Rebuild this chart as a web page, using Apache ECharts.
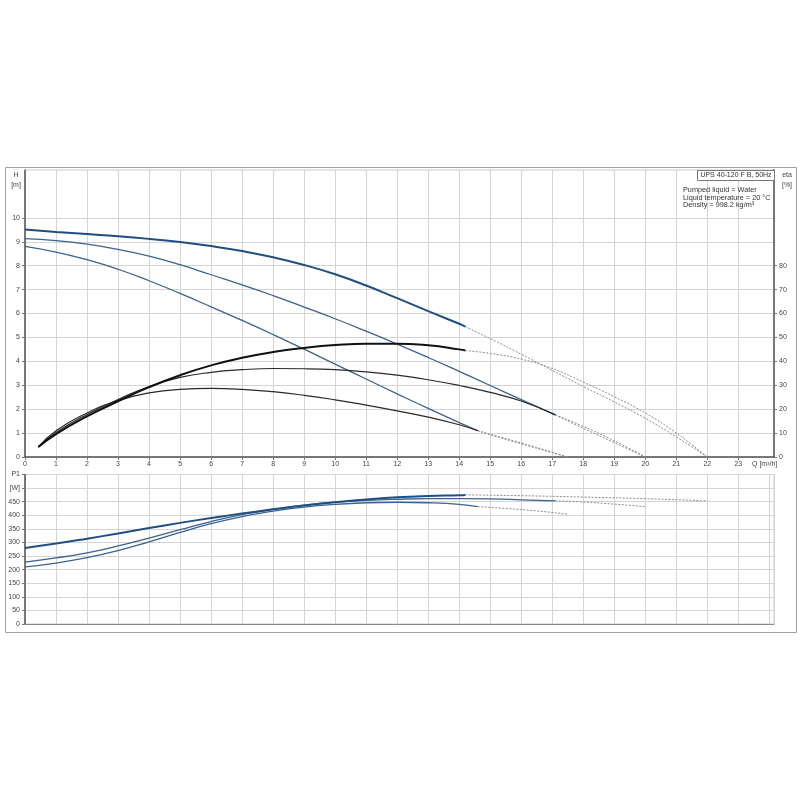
<!DOCTYPE html>
<html>
<head>
<meta charset="utf-8">
<script src="https://cdn.jsdelivr.net/npm/echarts@6/dist/echarts.min.js"></script>
<style>
html,body{margin:0;padding:0;background:#fff;}
#c{width:800px;height:800px;}
</style>
</head>
<body>
<div id="c"></div>
<script>
// ---- DATA ----
// Head curves H [m] vs Q [m3/h]
const qHmax = [0,1,2,3,4,5,6,7,8,9,10,11,12,13,14,14.2];
const hMax  = [9.51,9.41,9.32,9.23,9.12,8.99,8.82,8.61,8.35,8.03,7.64,7.17,6.64,6.1,5.57,5.45];
const qHmaxExt = [14.2,15,16,17,18,19,20,21,22];
const hMaxExt  = [5.45,4.95,4.3,3.62,2.95,2.3,1.62,0.84,0];

const qHmid = [0,1,2,3,4,5,6,7,8,9,10,11,12,13,14,15,16,17.1];
const hMid  = [9.13,9.05,8.9,8.68,8.4,8.04,7.62,7.2,6.75,6.27,5.78,5.26,4.72,4.16,3.58,2.99,2.4,1.76];
const qHmidExt = [17.1,18,19,20];
const hMidExt  = [1.76,1.2,0.6,0];

const qHmin = [0,1,2,3,4,5,6,7,8,9,10,11,12,13,14,14.6];
const hMin  = [8.81,8.57,8.25,7.85,7.37,6.84,6.28,5.71,5.12,4.51,3.88,3.26,2.64,2.03,1.44,1.1];
const qHminExt = [14.6,15,16,17,17.5];
const hMinExt  = [1.1,0.93,0.55,0.18,0];

// Efficiency curves eta [%] vs Q
const qEmax = [0.43,1,2,3,4,5,6,7,8,9,10,11,12,13,14,14.2];
const eMax  = [4.2,9.6,17.0,23.3,29.2,34.2,38.3,41.5,43.9,45.6,46.8,47.4,47.4,46.7,45.0,44.5];
const qEmaxExt = [14.2,15,16,17,18,19,20,21,22];
const eMaxExt  = [44.5,43.3,40.9,37.0,31.3,25.2,18.4,10.0,0];

const qEmid = [0.43,1,2,3,4,5,6,7,8,9,10,11,12,13,14,15,16,17.1];
const eMid  = [4.2,10.2,17.8,24.0,29.5,33.3,35.4,36.5,37.0,36.9,36.5,35.6,34.2,32.3,29.9,27.0,23.4,17.6];
const qEmidExt = [17.1,18,19,20];
const eMidExt  = [17.6,12.8,6.8,0];

const qEmin = [0.43,1,2,3,4,5,6,7,8,9,10,11,12,13,14,14.6];
const eMin  = [4.2,11.0,18.4,23.6,26.8,28.3,28.7,28.3,27.3,25.8,23.9,21.7,19.3,16.7,13.5,11.0];
const qEminExt = [14.6,15,16,17,17.5];
const eMinExt  = [11.0,9.5,5.9,2.0,0];

// Power curves P1 [W] vs Q
const qPmax = [0,1,2,3,4,5,6,7,8,9,10,11,12,13,14,14.2];
const pMax  = [280,296,314,333,353,372,390,407,422,436,448,458,466,471,474,475];
const qPmaxExt = [14.2,16,18,20,22];
const pMaxExt  = [475,472,467,461,453];

const qPmid = [0,1,2,3,4,5,6,7,8,9,10,11,12,13,14,15,16,17.1];
const pMid  = [228,243,262,287,316,347,377,402,422,437,448,455,459,461,461,460,457,453];
const qPmidExt = [17.1,18,19,20];
const pMidExt  = [453,449,441,432];

const qPmin = [0,1,2,3,4,5,6,7,8,9,10,11,12,13,14,14.6];
const pMin  = [210,224,244,270,302,337,369,395,415,430,440,446,448,446,440,432];
const qPminExt = [14.6,15.5,16.5,17.5];
const pMinExt  = [432,425,416,404];

// Axis tick values
const qTicks   = [0,1,2,3,4,5,6,7,8,9,10,11,12,13,14,15,16,17,18,19,20,21,22,23];
const hTicks   = [0,1,2,3,4,5,6,7,8,9,10];
const etaTicks = [0,10,20,30,40,50,60,70,80];

// Texts
const titleText = 'UPS 40-120 F B, 50Hz';
const infoLines = ['Pumped liquid = Water', 'Liquid temperature = 20 °C', 'Density = 998.2 kg/m³'];

// ---- CHART ----
const zip = (q, v) => q.map((x, i) => [x, v[i]]);
const FONT = 'Liberation Sans, Arial, sans-serif';
const LBL = {fontSize: 7, color: '#444', fontFamily: FONT};
const GRIDC = '#d4d4d4';
const BLUE = '#1f4f82', BLUE2 = '#3b6291', BLACK = '#111', BLACK2 = '#2a2a2a', DASH = '#8c8c8c';

function line(data, xi, yi, color, width, dashed) {
  return {
    type: 'line', data, xAxisIndex: xi, yAxisIndex: yi,
    showSymbol: false, symbol: 'none', smooth: 0.5,
    animation: false, silent: true,
    lineStyle: {color, width, type: dashed ? [2, 1.5] : 'solid'}
  };
}

const chart = echarts.init(document.getElementById('c'), null, {renderer: 'canvas'});
chart.setOption({
  animation: false,
  backgroundColor: '#fff',
  grid: [
    {left: 25, right: 26, top: 170, height: 287, show: true, borderColor: '#c8c8c8', borderWidth: 1},
    {left: 25, right: 26, top: 474.5, height: 149.5, show: true, borderColor: '#c8c8c8', borderWidth: 1}
  ],
  xAxis: [
    {gridIndex: 0, type: 'value', min: 0, max: 24.15, interval: 1,
     axisLine: {lineStyle: {color: '#555', width: 1.5}},
     axisTick: {show: true, length: 3, customValues: qTicks, lineStyle: {color: '#777'}},
     axisLabel: Object.assign({margin: 4, customValues: qTicks}, LBL),
     splitLine: {show: true, lineStyle: {color: GRIDC, width: 1}}},
    {gridIndex: 1, type: 'value', min: 0, max: 24.15, interval: 1,
     axisLine: {lineStyle: {color: '#888', width: 1}},
     axisTick: {show: false}, axisLabel: {show: false},
     splitLine: {show: true, lineStyle: {color: GRIDC, width: 1}}}
  ],
  yAxis: [
    {gridIndex: 0, type: 'value', min: 0, max: 12, interval: 1,
     axisLine: {show: true, lineStyle: {color: '#555', width: 1.5}},
     axisTick: {show: true, length: 3, customValues: hTicks, lineStyle: {color: '#777'}},
     axisLabel: Object.assign({margin: 5, customValues: hTicks}, LBL),
     splitLine: {show: true, lineStyle: {color: GRIDC, width: 1}}},
    {gridIndex: 0, type: 'value', position: 'right', min: 0, max: 120, interval: 10,
     axisLine: {show: true, lineStyle: {color: '#777', width: 2}},
     axisTick: {show: true, length: 3, customValues: etaTicks, lineStyle: {color: '#777'}},
     axisLabel: Object.assign({margin: 5, customValues: etaTicks}, LBL),
     splitLine: {show: false}},
    {gridIndex: 1, type: 'value', min: 0, max: 550, interval: 50,
     axisLine: {show: true, lineStyle: {color: '#555', width: 1.5}},
     axisTick: {show: true, length: 3, lineStyle: {color: '#777'}},
     axisLabel: Object.assign({margin: 5, formatter: v => v === 550 ? 'P1' : (v === 500 ? '[W]' : String(v))}, LBL),
     splitLine: {show: true, lineStyle: {color: GRIDC, width: 1}}}
  ],
  series: [
    line(zip(qHmaxExt, hMaxExt), 0, 0, DASH, 1, true),
    line(zip(qHmidExt, hMidExt), 0, 0, DASH, 1, true),
    line(zip(qHminExt, hMinExt), 0, 0, DASH, 1, true),
    line(zip(qEmaxExt, eMaxExt), 0, 1, DASH, 1, true),
    line(zip(qEmidExt, eMidExt), 0, 1, DASH, 1, true),
    line(zip(qEminExt, eMinExt), 0, 1, DASH, 1, true),
    line(zip(qPmaxExt, pMaxExt), 1, 2, DASH, 1, true),
    line(zip(qPmidExt, pMidExt), 1, 2, DASH, 1, true),
    line(zip(qPminExt, pMinExt), 1, 2, DASH, 1, true),

    line(zip(qHmin, hMin), 0, 0, BLUE2, 1.3),
    line(zip(qHmid, hMid), 0, 0, BLUE2, 1.3),
    line(zip(qHmax, hMax), 0, 0, BLUE, 2),
    line(zip(qEmin, eMin), 0, 1, BLACK2, 1.2),
    line(zip(qEmid, eMid), 0, 1, BLACK2, 1.2),
    line(zip(qEmax, eMax), 0, 1, BLACK, 2),
    line(zip(qPmin, pMin), 1, 2, BLUE2, 1.3),
    line(zip(qPmid, pMid), 1, 2, BLUE2, 1.3),
    line(zip(qPmax, pMax), 1, 2, BLUE, 2)
  ],
  graphic: [
    {type: 'rect', silent: true, z: -10, shape: {x: 5.5, y: 167.5, width: 791, height: 465},
     style: {fill: 'none', stroke: '#a0a0a0', lineWidth: 1}},
    {type: 'rect', silent: true, z: 100, shape: {x: 697.5, y: 170.5, width: 77, height: 10},
     style: {fill: '#fff', stroke: '#777', lineWidth: 1}},
    {type: 'text', silent: true, z: 101, x: 736, y: 175.5,
     style: {text: titleText, fontSize: 7, fontFamily: FONT, fill: '#333', align: 'center', verticalAlign: 'middle'}},
    {type: 'text', silent: true, z: 101, x: 683, y: 190,
     style: {text: infoLines[0], fontSize: 7.3, fontFamily: FONT, fill: '#333', verticalAlign: 'middle'}},
    {type: 'text', silent: true, z: 101, x: 683, y: 197.5,
     style: {text: infoLines[1], fontSize: 7.3, fontFamily: FONT, fill: '#333', verticalAlign: 'middle'}},
    {type: 'text', silent: true, z: 101, x: 683, y: 205,
     style: {text: infoLines[2], fontSize: 7.3, fontFamily: FONT, fill: '#333', verticalAlign: 'middle'}},
    {type: 'text', silent: true, x: 16, y: 175,
     style: {text: 'H', fontSize: 7, fontFamily: FONT, fill: '#444', align: 'center', verticalAlign: 'middle'}},
    {type: 'text', silent: true, x: 16, y: 185,
     style: {text: '[m]', fontSize: 7, fontFamily: FONT, fill: '#444', align: 'center', verticalAlign: 'middle'}},
    {type: 'text', silent: true, x: 787, y: 175,
     style: {text: 'eta', fontSize: 7, fontFamily: FONT, fill: '#444', align: 'center', verticalAlign: 'middle'}},
    {type: 'text', silent: true, x: 787, y: 185,
     style: {text: '[%]', fontSize: 7, fontFamily: FONT, fill: '#444', align: 'center', verticalAlign: 'middle'}},
    {type: 'text', silent: true, x: 752, y: 464,
     style: {text: 'Q [m³/h]', fontSize: 7, fontFamily: FONT, fill: '#444', verticalAlign: 'middle'}}
  ]
});
</script>
</body>
</html>
